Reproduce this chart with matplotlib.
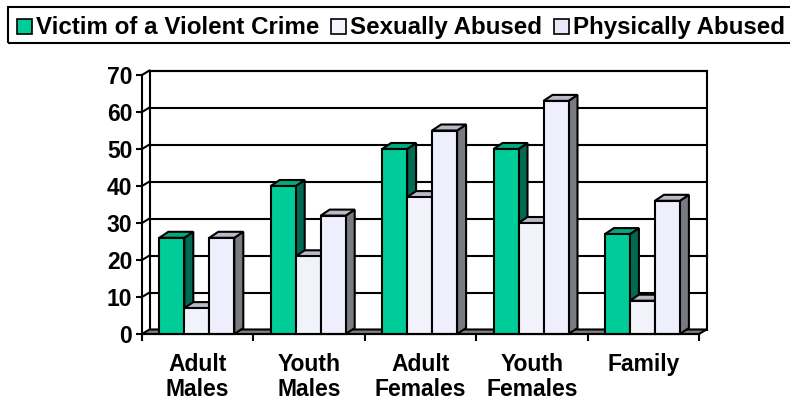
import matplotlib
matplotlib.use('Agg')
import matplotlib.pyplot as plt
from matplotlib.patches import Polygon, Rectangle

# ---------------- data ----------------
categories = ['Adult\nMales', 'Youth\nMales', 'Adult\nFemales', 'Youth\nFemales', 'Family']
series_names = ['Victim of a Violent Crime', 'Sexually Abused', 'Physically Abused']
violent = [26, 40, 50, 50, 27]
sexual = [7, 21, 37, 30, 9]
physical = [26, 32, 55, 63, 36]
y_ticks = [0, 10, 20, 30, 40, 50, 60, 70]

# ---------------- style ----------------
front_colors = ['#00CC99', '#F2F2FA', '#EEEEFC']
top_colors = ['#00AA80', '#B9B9C9', '#B9B9C9']
side_colors = ['#006B52', '#7A7A82', '#7A7A82']
legend_colors = ['#00CC99', '#F4F4FC', '#E8E8F8']
FONT = 'Liberation Sans'

W, H = 790, 404
fig = plt.figure(figsize=(W / 100, H / 100), dpi=100)

# axes placed so that front axis spans x 142..699 px, y 334..75 px
x_left, x_right, y_bot, y_top = 142, 699, 334, 75
ax = fig.add_axes([x_left / W, 1 - y_bot / H, (x_right - x_left) / W, (y_bot - y_top) / H])
ncat = len(categories)
ax.set_xlim(0, ncat)
ax.set_ylim(0, 70)

pxx = (x_right - x_left) / ncat   # px per category unit
pxy = (y_bot - y_top) / 70.0      # px per value unit

WDX, WDY = 7.5 / pxx, 4.5 / pxy   # depth of walls
BDX, BDY = 9.0 / pxx, 6.0 / pxy   # depth of bars
LW = 1.5

# back wall
ax.add_patch(Polygon([(WDX, WDY), (ncat + WDX, WDY), (ncat + WDX, 70 + WDY), (WDX, 70 + WDY)],
                     closed=True, facecolor='white', edgecolor='black', lw=LW, zorder=1, clip_on=False))
# gridlines on back wall + side wall
for yv in y_ticks[1:]:
    ax.plot([WDX, ncat + WDX], [yv + WDY, yv + WDY], color='black', lw=LW, zorder=1.2,
            clip_on=False, solid_capstyle='projecting')
    ax.plot([0, WDX], [yv, yv + WDY], color='black', lw=LW, zorder=1.2, clip_on=False)
# floor
ax.add_patch(Polygon([(0, 0), (ncat, 0), (ncat + WDX, WDY), (WDX, WDY)], closed=True,
                     facecolor='#808080', edgecolor='black', lw=LW, zorder=1.5, clip_on=False))

# bars
values = [violent, sexual, physical]
bw = 25.0 / pxx
start = 17.3 / pxx
for j, vals in enumerate(values):
    xs = [i + start + j * bw for i in range(ncat)]
    ax.bar(xs, vals, width=bw, align='edge', color=front_colors[j], edgecolor='black',
           lw=LW, zorder=3.7 + j, clip_on=False)
    for x0, v in zip(xs, vals):
        side = [(x0 + bw, 0), (x0 + bw + BDX, BDY), (x0 + bw + BDX, v + BDY), (x0 + bw, v)]
        top = [(x0, v), (x0 + bw, v), (x0 + bw + BDX, v + BDY), (x0 + BDX, v + BDY)]
        ax.add_patch(Polygon(side, closed=True, facecolor=side_colors[j], edgecolor='black',
                             lw=LW, zorder=3 + j, clip_on=False, joinstyle='miter'))
        ax.add_patch(Polygon(top, closed=True, facecolor=top_colors[j], edgecolor='black',
                             lw=LW, zorder=3.5 + j, clip_on=False, joinstyle='miter'))

# axes lines and ticks
for s in ['top', 'right']:
    ax.spines[s].set_visible(False)
for s in ['left', 'bottom']:
    ax.spines[s].set_linewidth(LW)
    ax.spines[s].set_zorder(10)
ax.set_yticks(y_ticks)
ax.set_yticklabels([str(t) for t in y_ticks], fontfamily=FONT, fontweight='bold', fontsize=16.5)
ax.tick_params(axis='y', direction='out', length=4, width=LW, pad=3)
ax.set_xticks(range(ncat + 1))
ax.set_xticklabels([''] * (ncat + 1))
ax.tick_params(axis='x', which='major', direction='out', length=5, width=LW)
ax.set_xticks([i + 0.5 for i in range(ncat)], minor=True)
ax.set_xticklabels(categories, minor=True, fontfamily=FONT, fontweight='bold', fontsize=16.5,
                   linespacing=1.1)
ax.tick_params(axis='x', which='minor', length=0, pad=14)

# legend (drawn in figure pixel coordinates, items laid out by measured width)
def fx(px):
    return px / W

def fy(py):
    return 1 - py / H

fig.add_artist(Rectangle((fx(8), fy(43)), fx(820) - fx(8), fy(7) - fy(43), transform=fig.transFigure,
                         facecolor='none', edgecolor='black', lw=LW))
renderer = fig.canvas.get_renderer()
cur = 17.0
SW, GAP_IN, GAP_OUT = 15, 4, 12
for name, c in zip(series_names, legend_colors):
    fig.add_artist(Rectangle((fx(cur), fy(34)), fx(SW), SW / H, transform=fig.transFigure,
                             facecolor=c, edgecolor='black', lw=1.2))
    t = fig.text(fx(cur + SW + GAP_IN), fy(34), name, fontfamily=FONT, fontweight='bold',
                 fontsize=17.4, va='baseline', ha='left')
    wpx = t.get_window_extent(renderer).width
    cur = cur + SW + GAP_IN + wpx + GAP_OUT

fig.savefig('out.png', dpi=100)
